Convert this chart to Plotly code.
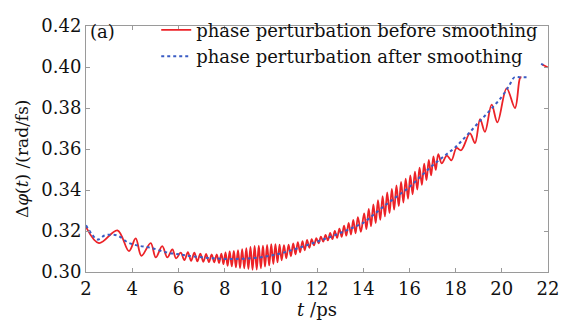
import plotly.graph_objects as go

# Blue: phase perturbation after smoothing
blue_t = [2.0, 2.25, 2.5, 2.8, 3.1, 3.4, 3.8, 4.2, 4.8, 5.5, 6.1, 6.5, 7.0, 7.5, 8.0, 8.5,
          9.0, 9.5, 10.0, 10.5, 11.0, 11.5, 12.0, 12.5, 13.0, 13.5, 14.0, 14.5, 15.0, 15.5,
          16.0, 16.5, 17.0, 17.5, 18.0, 18.5, 19.0, 19.5, 20.0, 20.3, 20.55, 20.8, 21.15,
          None, 21.7, 21.8]
blue_v = [0.3228, 0.3185, 0.3158, 0.3178, 0.3182, 0.3176, 0.3145, 0.3130, 0.3118, 0.3095,
          0.3085, 0.3078, 0.3072, 0.3067, 0.3064, 0.3064, 0.3066, 0.3071, 0.3080, 0.3093,
          0.3110, 0.3128, 0.3148, 0.3168, 0.3190, 0.3214, 0.3240, 0.3284, 0.3330, 0.3372,
          0.3415, 0.3467, 0.3520, 0.3565, 0.3610, 0.3668, 0.3730, 0.3790, 0.3855, 0.3905,
          0.3950, 0.3950, 0.3950, None, 0.4015, 0.4010]

# Red: phase perturbation before smoothing (extrema)
red_t = [2.00, 2.56, 3.36, 3.86, 4.15, 4.40, 4.80, 5.02, 5.30, 5.52, 5.74, 5.90, 6.10,
         6.26, 6.41, 6.55, 6.69, 6.82, 6.95, 7.08, 7.20, 7.32, 7.44, 7.55, 7.66, 7.76, 7.86, 7.95,
         8.04, 8.13, 8.22, 8.31, 8.40, 8.49, 8.58, 8.67, 8.76, 8.85, 8.94, 9.03, 9.12, 9.21,
         9.30, 9.39, 9.48, 9.57, 9.66, 9.75, 9.84, 9.93, 10.02, 10.11, 10.20, 10.29, 10.38,
         10.47, 10.57, 10.67,
         10.77, 10.87, 10.97, 11.07, 11.17, 11.27, 11.37, 11.47, 11.57, 11.67, 11.77, 11.87,
         11.97, 12.07, 12.17, 12.27, 12.37, 12.47, 12.57, 12.67, 12.77, 12.87, 12.97, 13.07,
         13.17, 13.27, 13.37, 13.47, 13.57, 13.67, 13.77, 13.90,
         14.04, 14.14, 14.24, 14.34, 14.44, 14.54, 14.64, 14.74, 14.84, 14.94, 15.04, 15.14,
         15.24, 15.34, 15.44, 15.54, 15.64, 15.74, 15.84, 15.94, 16.04, 16.14, 16.24, 16.34,
         16.44, 16.54, 16.64, 16.74, 16.84, 16.94, 17.04, 17.14, 17.25, 17.40,
         17.62, 17.82, 18.04, 18.24, 18.62, 18.84, 19.06, 19.27, 19.56, 19.81, 20.21, 20.57,
         20.79, 20.85, None, 21.75, 22.0]
red_v = [0.3220, 0.3141, 0.3203, 0.3102, 0.3164, 0.3079, 0.3141, 0.3071, 0.3126, 0.3071,
         0.3110, 0.3066, 0.3094,
         0.3058, 0.3097, 0.3054, 0.3094, 0.3052, 0.3090, 0.3050, 0.3088, 0.3048, 0.3086,
         0.3047, 0.3086, 0.3044, 0.3090, 0.3038,
         0.3096, 0.3030, 0.3100, 0.3027, 0.3103, 0.3023, 0.3107, 0.3019, 0.3112, 0.3018,
         0.3116, 0.3014, 0.3122, 0.3011, 0.3127, 0.3012, 0.3128, 0.3018, 0.3128, 0.3026,
         0.3132, 0.3032, 0.3136, 0.3039, 0.3136, 0.3047, 0.3134, 0.3057, 0.3131, 0.3067,
         0.3133, 0.3076, 0.3139, 0.3086, 0.3145, 0.3096, 0.3151, 0.3106, 0.3156, 0.3118,
         0.3160, 0.3130, 0.3165, 0.3140, 0.3172, 0.3148, 0.3181, 0.3154, 0.3191, 0.3160,
         0.3201, 0.3166, 0.3212, 0.3171, 0.3226, 0.3177, 0.3240, 0.3183, 0.3254, 0.3189,
         0.3268, 0.3196,
         0.3286, 0.3209, 0.3308, 0.3223, 0.3330, 0.3238, 0.3350, 0.3254, 0.3370, 0.3271,
         0.3388, 0.3287, 0.3405, 0.3304, 0.3422, 0.3321, 0.3439, 0.3339, 0.3455, 0.3357,
         0.3471, 0.3379, 0.3490, 0.3402, 0.3509, 0.3425, 0.3528, 0.3448, 0.3547, 0.3471,
         0.3564, 0.3498, 0.3575, 0.3530,
         0.3568, 0.3545, 0.3605, 0.3594, 0.3676, 0.3629, 0.3746, 0.3684, 0.3816, 0.3730,
         0.3896, 0.3800, 0.3947, 0.3950, None, 0.4012, 0.3998]

x_ticks = [2, 4, 6, 8, 10, 12, 14, 16, 18, 20, 22]
y_ticks = [0.30, 0.32, 0.34, 0.36, 0.38, 0.40, 0.42]
y_tick_text = ["0.30", "0.32", "0.34", "0.36", "0.38", "0.40", "0.42"]

FONT = "DejaVu Serif"
RED = "#ec2227"
BLUE = "#3a5cc4"
AX = "#9a9a9a"

fig = go.Figure()
fig.add_trace(go.Scatter(x=red_t, y=red_v, mode="lines", name="phase perturbation before smoothing",
                         line=dict(color=RED, width=1.8, shape="spline", smoothing=1.0),
                         connectgaps=False))
fig.add_trace(go.Scatter(x=blue_t, y=blue_v, mode="lines", name="phase perturbation after smoothing",
                         line=dict(color=BLUE, width=2, dash="dot", shape="spline", smoothing=1.0),
                         connectgaps=False))

axis_common = dict(showline=True, linecolor=AX, linewidth=1, mirror="ticks", ticks="inside",
                   ticklen=4, tickcolor=AX, showgrid=False, zeroline=False, automargin=False,
                   tickfont=dict(family=FONT, size=18, color="#111"))

fig.update_xaxes(range=[2, 22], tickvals=x_ticks,
                 title=dict(text="<i>t</i> /ps", font=dict(family=FONT, size=18, color="#111"),
                            standoff=2),
                 **axis_common)
fig.update_yaxes(range=[0.30, 0.42], tickvals=y_ticks, ticktext=y_tick_text, **axis_common)

# y-axis title placed as rotated text
fig.add_annotation(text="Δ<i>φ</i>(<i>t</i>) /(rad/fs)", x=-0.138, y=0.46,
                   xref="paper", yref="paper", textangle=-90, showarrow=False,
                   xanchor="center", yanchor="middle",
                   font=dict(family=FONT, size=17, color="#111"))

fig.add_annotation(text="(a)", x=0.0, y=1.0, xref="paper", yref="paper", xanchor="left",
                   yanchor="top", xshift=2, yshift=7, showarrow=False,
                   font=dict(family=FONT, size=18, color="#111"))

fig.update_layout(
    width=561, height=327,
    margin=dict(l=86, r=13, t=14, b=55),
    paper_bgcolor="white", plot_bgcolor="white",
    showlegend=True,
    legend=dict(x=0.152, y=1.058, xanchor="left", yanchor="top", bgcolor="rgba(0,0,0,0)",
                font=dict(family=FONT, size=18, color="#111"), tracegroupgap=0,
                itemwidth=30),
)

fig.write_html("out.html", config={"displayModeBar": False},
               post_script="document.body.style.margin='0';document.body.style.overflow='hidden';")
